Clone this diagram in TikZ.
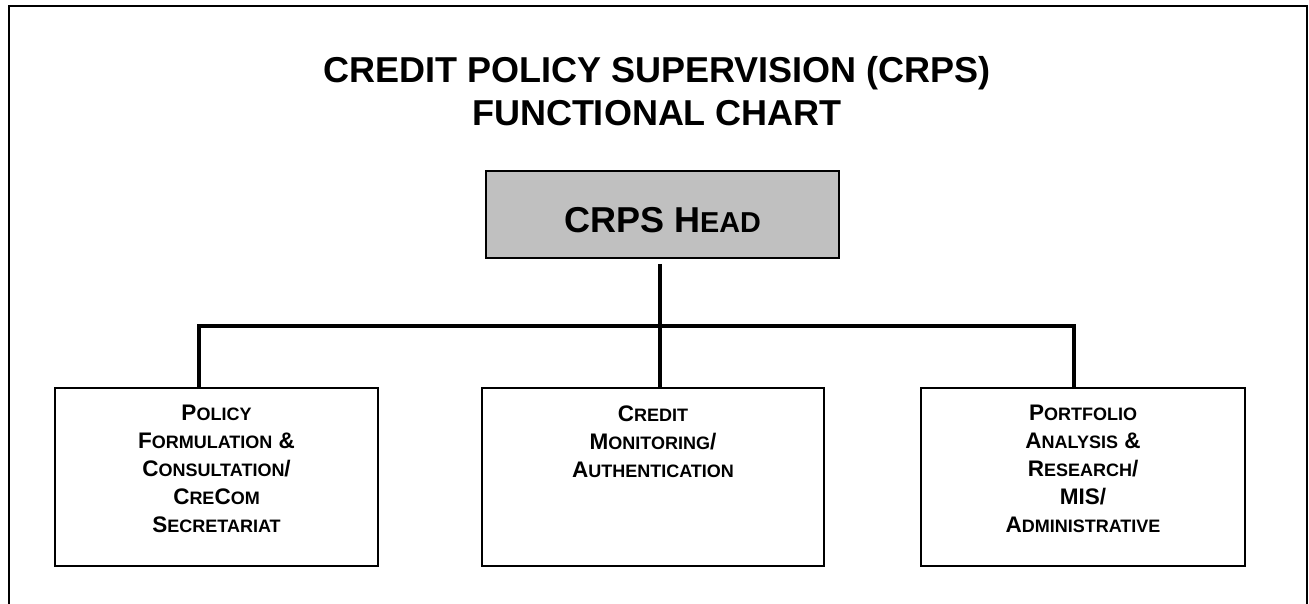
\documentclass[tikz,border=0pt]{standalone}
\usepackage{fontspec}
\setmainfont{Liberation Sans}
\definecolor{headgray}{HTML}{C0C0C0}
\newcommand\hsc[1]{{\fontsize{28.8}{30}\selectfont #1}}
\newcommand\bsc[1]{{\fontsize{18}{28}\selectfont #1}}
\tikzset{
  unitbox/.style={draw=black, line width=1.8pt, inner sep=0pt, minimum height=178pt},
  boxtext/.style={anchor=north, inner sep=0pt, align=center, font=\fontsize{22.5}{28}\selectfont\bfseries},
  headbox/.style={draw=black, line width=1.8pt, fill=headgray, inner sep=0pt,
    minimum width=353pt, minimum height=87pt, text height=37pt, text depth=0pt,
    font=\fontsize{36}{40}\selectfont\bfseries},
  conn/.style={line width=3.2pt, line cap=butt},
  frame/.style={line width=2.2pt}
}
\begin{document}
\begin{tikzpicture}[x=1pt,y=1pt]
\useasboundingbox (0,0) rectangle (1309,604);
\fill[white] (0,0) rectangle (1309,604);
% frame
\draw[frame] (9,0) -- (9,598) -- (1307,598) -- (1307,0);
% title
\node[font=\fontsize{36}{43}\selectfont\bfseries, align=center, inner sep=0pt] (title) at (657,513)
  {CREDIT POLICY SUPERVISION (CRPS)\\FUNCTIONAL CHART};
% head
\node[headbox] (head) at (662.5,389.5) {CRPS H\hsc{EAD}};
% units
\node[unitbox, minimum width=323pt] (pf) at (216.5,127) {};
\node[unitbox, minimum width=342pt] (cm) at (653,127) {};
\node[unitbox, minimum width=324pt] (pa) at (1083,127) {};
\node[boxtext] (pft) at ([yshift=-18pt]pf.north)
  {P\bsc{OLICY}\\F\bsc{ORMULATION} \&\\C\bsc{ONSULTATION}/\\C\bsc{RE}C\bsc{OM}\\S\bsc{ECRETARIAT}};
\node[boxtext] (cmt) at ([yshift=-18pt]cm.north)
  {C\bsc{REDIT}\\M\bsc{ONITORING}/\\A\bsc{UTHENTICATION}};
\node[boxtext] (pat) at ([yshift=-18pt]pa.north)
  {P\bsc{ORTFOLIO}\\A\bsc{NALYSIS} \&\\R\bsc{ESEARCH}/\\MIS/\\A\bsc{DMINISTRATIVE}};
% connectors
\coordinate (bus) at (0,278);
\coordinate (drop) at ([xshift=7pt]cm.north);
\draw[conn] ([yshift=-5pt]head.south -| drop) -- (drop);
\draw[conn] ([xshift=-17.5pt]pf.north) -- ([xshift=-17.5pt]pf.north |- bus) -- ([xshift=-9pt]pa.north |- bus) -- ([xshift=-9pt]pa.north);
\end{tikzpicture}
\end{document}
